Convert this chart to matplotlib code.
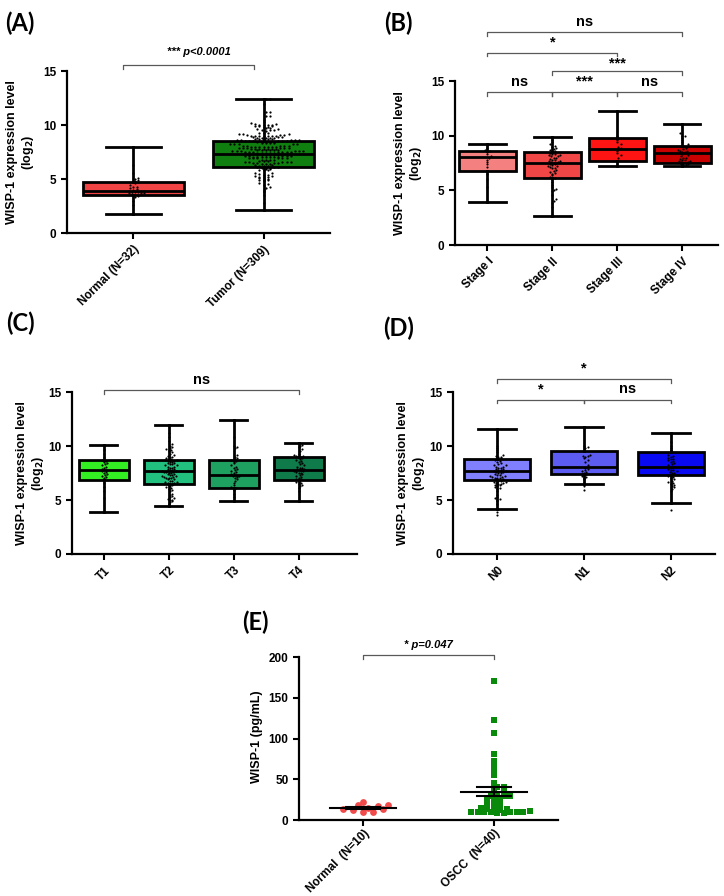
import numpy as np
import matplotlib
matplotlib.use("Agg")
import matplotlib.pyplot as plt

plt.rcParams["font.family"] = ["Liberation Sans", "DejaVu Sans"]
plt.rcParams["font.weight"] = "bold"

W, H = 724, 896

# ---- Panel A: normal vs tumor (log2 expression) ----
A_CATS = ["Normal (N=32)", "Tumor (N=309)"]
A_LO = [1.8, 2.1]
A_Q1 = [3.5, 6.15]
A_MED = [3.9, 7.35]
A_Q3 = [4.75, 8.55]
A_HI = [8.0, 12.4]
A_COLORS = ["#f04444", "#0f800f"]
normal_vals = [1.8, 2.6, 3.0, 3.3, 3.4, 3.5, 3.5, 3.6, 3.7, 3.7, 3.7, 3.8, 3.8, 3.8, 3.9, 3.9,
               3.9, 4.0, 4.1, 4.2, 4.3, 4.3, 4.4, 4.6, 4.7, 4.8, 4.9, 5.0, 5.1, 5.6, 6.3, 8.0]

# ---- Panel C: T stage ----
C_CATS = ["T1", "T2", "T3", "T4"]
C_LO = [3.9, 4.4, 4.9, 4.9]
C_Q1 = [6.87, 6.5, 6.12, 6.87]
C_MED = [7.79, 7.64, 7.3, 7.79]
C_Q3 = [8.72, 8.72, 8.66, 8.97]
C_HI = [10.08, 11.94, 12.43, 10.27]
C_COLORS = ["#33ee22", "#22c07e", "#1ea060", "#0f7a4a"]
t1_vals = [3.9, 5.2, 5.8, 6.2, 6.6, 6.9, 7.0, 7.1, 7.2, 7.3, 7.4, 7.5, 7.6, 7.7, 7.8, 7.8, 7.9,
           8.0, 8.1, 8.2, 8.3, 8.4, 8.5, 8.6, 8.7, 8.8, 9.0, 9.3, 9.6, 10.1]
t2_vals = [4.4, 4.6, 4.8, 4.9, 5.0, 5.0, 5.1, 5.2, 5.3, 5.4, 5.5, 5.6, 5.8, 5.9, 6.0, 6.1, 6.2,
           6.3, 6.4, 6.5, 6.5, 6.6, 6.6, 6.7, 6.7, 6.8, 6.8, 6.9, 6.9, 7.0, 7.0, 7.0, 7.1, 7.1,
           7.2, 7.2, 7.3, 7.3, 7.4, 7.4, 7.5, 7.5, 7.6, 7.6, 7.6, 7.7, 7.7, 7.8, 7.8, 7.9, 7.9,
           8.0, 8.0, 8.1, 8.1, 8.2, 8.2, 8.3, 8.3, 8.4, 8.4, 8.5, 8.5, 8.6, 8.6, 8.7, 8.7, 8.8,
           8.8, 8.9, 9.0, 9.0, 9.1, 9.2, 9.3, 9.4, 9.5, 9.6, 9.7, 9.8, 9.9, 10.0, 10.2, 10.5,
           10.8, 11.2, 11.9]
t3_vals = [4.9, 5.3, 5.6, 5.9, 6.0, 6.1, 6.2, 6.4, 6.6, 6.8, 6.9, 7.0, 7.1, 7.2, 7.2, 7.3, 7.3,
           7.4, 7.5, 7.6, 7.7, 7.8, 7.9, 8.0, 8.1, 8.2, 8.4, 8.5, 8.6, 8.7, 8.8, 8.9, 9.0, 9.2,
           9.8, 9.9, 10.0, 10.8, 12.4]
t4_vals = [4.9, 5.8, 6.1, 6.3, 6.4, 6.5, 6.6, 6.7, 6.8, 6.9, 6.9, 7.0, 7.1, 7.2, 7.3, 7.4, 7.5,
           7.5, 7.6, 7.7, 7.7, 7.8, 7.8, 7.9, 7.9, 8.0, 8.0, 8.1, 8.2, 8.3, 8.4, 8.5, 8.6, 8.7,
           8.8, 8.9, 9.0, 9.0, 9.1, 9.1, 9.2, 9.3, 9.5, 9.7, 9.9, 10.0, 10.1, 10.3]
tumor_extra = [2.1, 2.8, 3.5, 3.8, 4.0, 4.2, 4.3, 4.5, 5.2, 5.4, 6.0, 6.5, 7.0, 7.5, 8.0, 8.5,
               9.0, 9.5, 10.0, 11.2, 12.4]
tumor_vals = t1_vals + t2_vals + t3_vals + t4_vals + tumor_extra

# ---- Panel B: clinical stage ----
B_CATS = ["Stage I", "Stage II", "Stage III", "Stage IV"]
B_LO = [3.93, 2.65, 7.26, 7.26]
B_Q1 = [6.8, 6.16, 7.65, 7.53]
B_MED = [8.08, 7.53, 8.78, 8.38]
B_Q3 = [8.63, 8.48, 9.82, 9.09]
B_HI = [9.2, 9.9, 12.26, 11.07]
B_COLORS = ["#f58080", "#f04646", "#ff1414", "#c80000"]
s1_vals = [3.9, 5.3, 6.0, 6.5, 6.8, 7.1, 7.4, 7.6, 7.8, 8.0, 8.1, 8.3, 8.5, 8.6, 8.7, 8.9, 9.2]
s2_vals = [2.7, 3.5, 3.8, 4.0, 4.2, 4.6, 4.9, 5.0, 5.1, 5.3, 5.5, 5.8, 6.0, 6.1, 6.2, 6.4, 6.5,
           6.6, 6.7, 6.8, 6.9, 7.0, 7.0, 7.1, 7.2, 7.2, 7.3, 7.4, 7.4, 7.5, 7.5, 7.6, 7.6, 7.7,
           7.7, 7.8, 7.8, 7.9, 8.0, 8.0, 8.1, 8.1, 8.2, 8.2, 8.3, 8.3, 8.4, 8.5, 8.6, 8.7, 8.8,
           8.9, 9.0, 9.1, 9.2, 9.4, 9.6, 9.9]
s3_vals = [7.3, 7.7, 8.0, 8.2, 8.4, 8.6, 8.8, 8.9, 9.0, 9.2, 9.4, 9.6, 9.8, 10.0, 12.2]
s4_vals = [7.3, 7.3, 7.4, 7.4, 7.5, 7.5, 7.6, 7.6, 7.7, 7.7, 7.8, 7.8, 7.9, 8.0, 8.0, 8.1, 8.2,
           8.3, 8.4, 8.4, 8.5, 8.5, 8.6, 8.6, 8.7, 8.8, 8.9, 9.0, 9.0, 9.1, 9.2, 9.4, 9.6, 9.8,
           10.0, 10.0, 10.2, 11.1]

# ---- Panel D: N stage ----
D_CATS = ["N0", "N1", "N2"]
D_LO = [4.14, 6.46, 4.7]
D_Q1 = [6.87, 7.42, 7.36]
D_MED = [7.73, 8.04, 8.07]
D_Q3 = [8.81, 9.5, 9.4]
D_HI = [11.57, 11.78, 11.23]
D_COLORS = ["#8080ff", "#5c5cf2", "#0a0af2"]
n0_vals = [3.6, 3.9, 4.2, 4.6, 4.9, 5.0, 5.1, 5.2, 5.3, 5.5, 5.8, 6.0, 6.1, 6.2, 6.3, 6.4, 6.4,
           6.5, 6.5, 6.6, 6.6, 6.7, 6.7, 6.8, 6.8, 6.9, 6.9, 7.0, 7.0, 7.0, 7.1, 7.1, 7.2, 7.2,
           7.3, 7.3, 7.4, 7.5, 7.5, 7.6, 7.6, 7.7, 7.7, 7.8, 7.8, 7.9, 7.9, 8.0, 8.0, 8.1, 8.1,
           8.2, 8.2, 8.3, 8.4, 8.5, 8.6, 8.7, 8.8, 8.9, 9.0, 9.0, 9.1, 9.2, 9.4, 9.6, 9.8, 10.0,
           11.6]
n1_vals = [5.9, 6.3, 6.6, 6.9, 7.0, 7.1, 7.2, 7.3, 7.4, 7.4, 7.5, 7.6, 7.7, 7.8, 7.9, 8.0, 8.2,
           8.5, 8.7, 8.9, 9.0, 9.1, 9.1, 9.2, 9.8, 9.9, 10.0, 11.8]
n2_vals = [4.1, 4.7, 5.8, 6.0, 6.2, 6.3, 6.4, 6.5, 6.6, 6.7, 6.8, 6.9, 7.0, 7.1, 7.2, 7.3, 7.4,
           7.5, 7.5, 7.6, 7.7, 7.8, 7.8, 7.9, 8.0, 8.1, 8.2, 8.3, 8.4, 8.5, 8.6, 8.7, 8.8, 8.8,
           8.9, 9.0, 9.1, 9.2, 9.4, 9.6, 9.8, 10.0, 10.4, 11.2]

# ---- Panel E: serum WISP-1 (pg/mL) ----
E_CATS = ["Normal  (N=10)", "OSCC  (N=40)"]
e_normal = [17, 12, 19, 13, 19, 10, 22, 15, 10, 13]
e_oscc = [171, 123, 107, 81, 73, 66, 61, 55, 45, 40, 40, 38, 35, 32, 30, 30, 30, 28, 25, 25,
          24, 20, 18, 17, 16, 15, 14, 14, 12, 12, 11, 10, 10, 10, 10, 10, 10, 10, 9, 9]


def fr(x0, y0, x1, y1):
    # pixel box -> figure fraction rect
    return [x0 / W, 1 - y1 / H, (x1 - x0) / W, (y1 - y0) / H]


def swarm(vals, bw, dx):
    v = np.sort(np.asarray(vals, float))
    xs = np.zeros_like(v)
    bins = np.floor(v / bw)
    for b in np.unique(bins):
        idx = np.where(bins == b)[0]
        n = len(idx)
        for k, i in enumerate(idx):
            step = (k + 1) // 2
            xs[i] = step * dx * (1 if k % 2 else -1)
        if n % 2 == 0:
            xs[idx] += dx / 2
    return v, xs


def style(ax, cats, ylim, yticks, fs=8, pad=3.5):
    for s in ["top", "right"]:
        ax.spines[s].set_visible(False)
    for s in ["left", "bottom"]:
        ax.spines[s].set_linewidth(1.6)
    ax.set_ylim(*ylim)
    ax.set_yticks(yticks)
    ax.set_xticks(range(len(cats)))
    ax.set_xticklabels(cats, rotation=45, ha="right", rotation_mode="anchor", fontsize=fs,
                       fontweight="bold")
    ax.tick_params(axis="both", width=1.5, length=4, labelsize=8.5)
    ax.tick_params(axis="x", pad=pad)
    for t in ax.get_yticklabels():
        t.set_fontweight("bold")


def boxes(ax, lo, q1, med, q3, hi, colors, width, cap):
    stats = [dict(whislo=a, q1=b, med=c, q3=d, whishi=e, fliers=[])
             for a, b, c, d, e in zip(lo, q1, med, q3, hi)]
    n = len(stats)
    bp = ax.bxp(stats, positions=range(n), widths=width, capwidths=cap, patch_artist=True,
                showfliers=False,
                boxprops=dict(linewidth=2.0, edgecolor="black"),
                medianprops=dict(color="black", linewidth=2.0),
                whiskerprops=dict(color="black", linewidth=2.0),
                capprops=dict(color="black", linewidth=2.0))
    for p, c in zip(bp["boxes"], colors):
        p.set_facecolor(c)


def dots(ax, groups, bw, dx, s=2.4):
    for i, g in enumerate(groups):
        v, xs = swarm(g, bw, dx)
        ax.scatter(i + xs, v, s=s, color="black", zorder=3, linewidths=0)


def bracket(ax, x1, x2, y, text, h=0.35, ty=0.25, fs=10.5):
    ax.plot([x1, x1, x2, x2], [y - h, y, y, y - h], color="0.35", lw=0.9, clip_on=False)
    ax.text((x1 + x2) / 2, y + ty, text, ha="center", va="bottom", fontsize=fs,
            fontweight="bold", clip_on=False)


fig = plt.figure(figsize=(W / 100, H / 100), dpi=100)

# ---- A ----
ax = fig.add_axes(fr(67, 71, 330, 233))
boxes(ax, A_LO, A_Q1, A_MED, A_Q3, A_HI, A_COLORS, 0.77, 0.42)
dots(ax, [normal_vals], 0.25, 0.024)
v, xs = swarm(tumor_vals, 0.2, 0.032)
ax.scatter(1 + xs, v, s=2.6, color="black", zorder=3, linewidths=0)
style(ax, A_CATS, (0, 15), [0, 5, 10, 15], fs=8)
ax.set_xlim(-0.51, 1.51)
ax.plot([-0.08, -0.08, 0.93, 0.93], [15.2, 15.55, 15.55, 15.2], color="0.35", lw=0.9,
        clip_on=False)
ax.text(0.5, 16.3, "*** p<0.0001", ha="center", va="bottom", fontsize=8, fontstyle="italic",
        fontweight="bold")

# ---- B ----
ax = fig.add_axes(fr(455, 81, 718, 245))
boxes(ax, B_LO, B_Q1, B_MED, B_Q3, B_HI, B_COLORS, 0.88, 0.56)
dots(ax, [s1_vals, s2_vals, s3_vals, s4_vals], 0.25, 0.035)
style(ax, B_CATS, (0, 15), [0, 5, 10, 15])
ax.set_xlim(-0.5, 3.55)
bracket(ax, 0, 3, 19.5, "ns", ty=0.3)
bracket(ax, 0, 2, 17.6, "*", ty=0.3)
bracket(ax, 1, 3, 15.9, "***", ty=0.05)
bracket(ax, 0, 1, 14.0, "ns", ty=0.3)
bracket(ax, 1, 2, 14.0, "***", ty=0.3)
bracket(ax, 2, 3, 14.0, "ns", ty=0.3)

# ---- C ----
ax = fig.add_axes(fr(72, 392, 357, 554))
boxes(ax, C_LO, C_Q1, C_MED, C_Q3, C_HI, C_COLORS, 0.77, 0.42)
dots(ax, [t1_vals, t2_vals, t3_vals, t4_vals], 0.25, 0.035)
style(ax, C_CATS, (0, 15), [0, 5, 10, 15])
ax.set_xlim(-0.49, 3.9)
bracket(ax, 0, 3, 15.15, "ns", ty=0.3)

# ---- D ----
ax = fig.add_axes(fr(453, 392, 715, 554))
boxes(ax, D_LO, D_Q1, D_MED, D_Q3, D_HI, D_COLORS, 0.76, 0.44)
dots(ax, [n0_vals, n1_vals, n2_vals], 0.25, 0.028)
style(ax, D_CATS, (0, 15), [0, 5, 10, 15])
ax.set_xlim(-0.51, 2.51)
bracket(ax, 0, 2, 16.2, "*", ty=0.3)
bracket(ax, 0, 1, 14.3, "*", ty=0.3)
bracket(ax, 1, 2, 14.3, "ns", ty=0.3)

# ---- E ----
ax = fig.add_axes(fr(299, 657, 558, 820))
v, xs = swarm(e_normal, 5, 0.075)
ax.scatter(0 + xs, v, s=24, marker="o", color="#f04a4a", linewidths=0, zorder=2)
v, xs = swarm(e_oscc, 4, 0.05)
ax.scatter(1 + xs, v, s=24, marker="s", color="#0a8a0a", linewidths=0, zorder=2)
for i, g in enumerate([e_normal, e_oscc]):
    g = np.asarray(g, float)
    m = g.mean()
    sem = g.std(ddof=1) / np.sqrt(len(g))
    ax.plot([i - 0.25, i + 0.25], [m, m], color="black", lw=1.5, zorder=3)
    ax.plot([i, i], [m - sem, m + sem], color="black", lw=1.5, zorder=3)
    for y in (m - sem, m + sem):
        ax.plot([i - 0.13, i + 0.13], [y, y], color="black", lw=1.5, zorder=3)
style(ax, E_CATS, (0, 200), [0, 50, 100, 150, 200], fs=7.8, pad=1.5)
ax.set_xlim(-0.49, 1.49)
ax.plot([0, 0, 1, 1], [198, 203, 203, 198], color="0.35", lw=0.9, clip_on=False)
ax.text(0.5, 208, "* p=0.047", ha="center", va="bottom", fontsize=8, fontstyle="italic",
        fontweight="bold")

# ---- axis titles ----
ylab = "WISP-1 expression level\n(log$_\\mathbf{2}$)"
for x, y in [(21, 152), (409, 163), (31, 473), (412, 473)]:
    fig.text(x / W, 1 - y / H, ylab, rotation=90, ha="center", va="center", fontsize=9,
             fontweight="bold", linespacing=1.1)
fig.text(257 / W, 1 - 737 / H, "WISP-1 (pg/mL)", rotation=90, ha="center", va="center",
         fontsize=9, fontweight="bold")

# ---- panel letters ----
for lab, x, y in [("(A)", 5, 23), ("(B)", 384, 23), ("(C)", 6, 323), ("(D)", 383, 328),
                  ("(E)", 242, 622)]:
    fig.text(x / W, 1 - y / H, lab, ha="left", va="center", fontsize=17, fontweight="bold",
             family=["Lato", "DejaVu Sans"])

fig.savefig("out.png", dpi=100)
